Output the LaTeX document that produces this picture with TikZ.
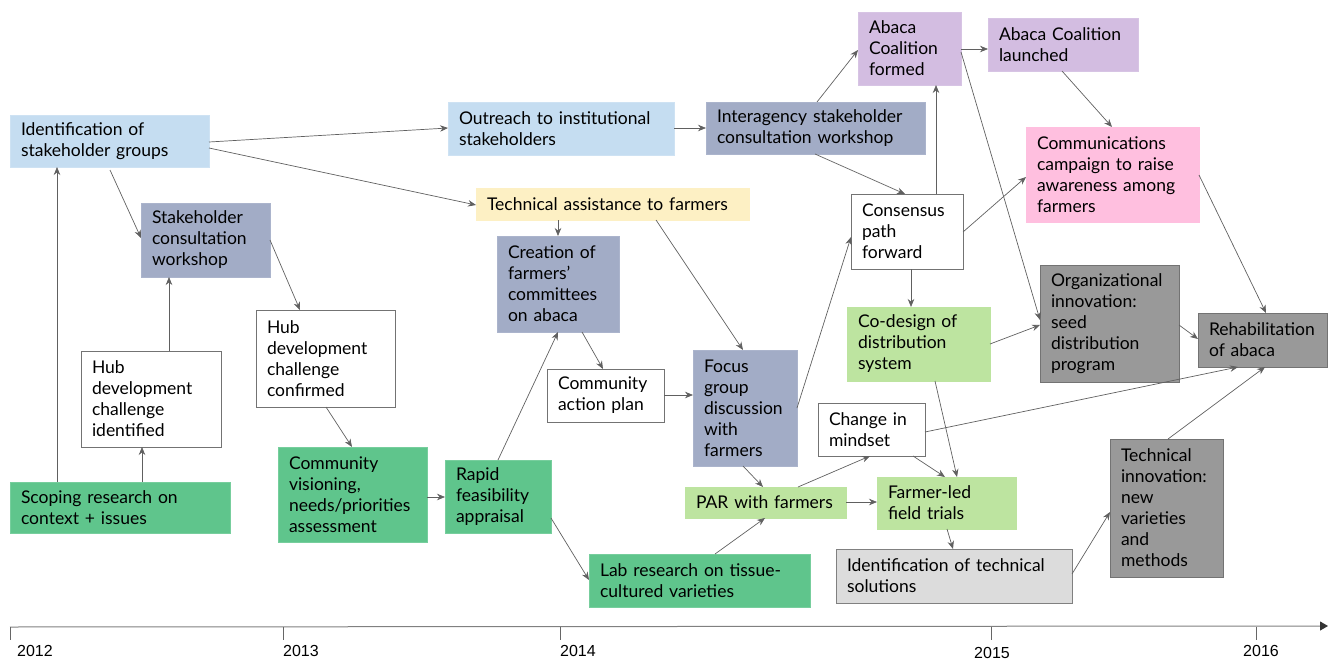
\documentclass[tikz,border=0pt]{standalone}
\usepackage{fontspec}
\setmainfont{Lato}
\newfontfamily\yearfont{Liberation Sans}
\usetikzlibrary{arrows.meta}
\hyphenpenalty=10000
\exhyphenpenalty=10000
\definecolor{cblue}{HTML}{C5DDF1}
\definecolor{cslate}{HTML}{A2ACC6}
\definecolor{cyellow}{HTML}{FDF0C4}
\definecolor{cgreen}{HTML}{5FC58C}
\definecolor{clgreen}{HTML}{BDE4A0}
\definecolor{cpurple}{HTML}{D3BDE1}
\definecolor{cpink}{HTML}{FFBFDF}
\definecolor{cgray}{HTML}{999999}
\definecolor{clgray}{HTML}{DCDCDC}
\definecolor{cline}{HTML}{606060}
\newcommand{\bx}[7]{%
  \pgfmathsetmacro{\bxw}{#4-#2}%
  \pgfmathsetmacro{\bxh}{#5-#3}%
  \pgfmathsetmacro{\bxt}{#4-#2-22}%
  \node[box,#6,minimum width=\bxw pt,minimum height=\bxh pt,text width=\bxt pt] (#1) at (#2,#3) {#7};}
\tikzset{
  box/.style={anchor=north west,outer sep=0pt,inner xsep=11pt,inner ysep=2pt,align=left,
    font=\fontsize{17.5}{21}\selectfont,line width=0.8pt},
  fblue/.style={fill=cblue,draw=cblue!85!white},
  fslate/.style={fill=cslate,draw=cslate!90!white},
  fyellow/.style={fill=cyellow,draw=cyellow},
  fgreen/.style={fill=cgreen,draw=cgreen!85!white},
  flgreen/.style={fill=clgreen,draw=clgreen},
  fpurple/.style={fill=cpurple,draw=cpurple!90!white},
  fpink/.style={fill=cpink,draw=cpink},
  fgray/.style={fill=cgray,draw=black!55},
  flgray/.style={fill=clgray,draw=black!50},
  fwhite/.style={fill=white,draw=black!55},
  conn/.style={draw=cline,line width=0.7pt,-{Stealth[length=8pt,width=6.5pt]}},
  year/.style={anchor=west,font=\yearfont\fontsize{16}{16}\selectfont,inner sep=0pt},
  tick/.style={draw=black!60,line width=0.7pt}
}
\begin{document}
\begin{tikzpicture}[x=1pt,y=-1pt]
\useasboundingbox (0,0) rectangle (1328,661);
% boxes
\bx{idsg}{10}{115}{209}{167}{fblue}{Identification of\\stakeholder groups}
\bx{scw}{141}{203}{270}{277}{fslate}{Stakeholder\\consultation\\workshop}
\bx{hdci}{81}{351}{221}{447}{fwhite}{Hub\\development\\challenge\\identified}
\bx{scope}{10}{482}{230}{533}{fgreen}{Scoping research on\\context + issues}
\bx{hdcc}{256}{310}{395}{407}{fwhite}{Hub\\development\\challenge\\confirmed}
\bx{cvis}{278}{447}{427}{542}{fgreen}{Community\\visioning,\\needs/priorities\\assessment}
\bx{outr}{448}{102}{674}{155}{fblue}{Outreach to institutional\\stakeholders}
\bx{inter}{706}{102}{925}{154}{fslate}{Interagency stakeholder\\consultation workshop}
\bx{tech}{476}{188}{749}{220}{fyellow}{Technical assistance to farmers}
\bx{creat}{497}{236}{619}{332}{fslate}{Creation of\\farmers’\\committees\\on abaca}
\bx{cap}{547}{369}{664}{422}{fwhite}{Community\\action plan}
\bx{focus}{693}{350}{797}{466}{fslate}{Focus\\group\\discussion\\with\\farmers}
\bx{rapid}{445}{460}{551}{533}{fgreen}{Rapid\\feasibility\\appraisal}
\bx{par}{685}{487}{846}{518}{flgreen}{PAR with farmers}
\bx{lab}{589}{554}{810}{607}{fgreen}{Lab research on tissue-\\cultured varieties}
\bx{cons}{851}{194}{963}{269}{fwhite}{Consensus\\path\\forward}
\bx{acf}{858}{12}{961}{85}{fpurple}{Abaca\\Coalition\\formed}
\bx{acl}{988}{18}{1138}{71}{fpurple}{Abaca Coalition\\launched}
\bx{comm}{1026}{127}{1199}{222}{fpink}{Communications\\campaign to raise\\awareness among\\farmers}
\bx{org}{1040}{265}{1179}{382}{fgray}{Organizational\\innovation:\\seed\\distribution\\program}
\bx{codes}{847}{307}{990}{381}{flgreen}{Co-design of\\distribution\\system}
\bx{mind}{818}{403}{925}{456}{fwhite}{Change in\\mindset}
\bx{flt}{877}{477}{1016}{529}{flgreen}{Farmer-led\\field trials}
\bx{its}{836}{549}{1072}{603}{flgray}{Identification of technical\\solutions}
\bx{tinn}{1110}{439}{1223}{577}{fgray}{Technical\\innovation:\\new\\varieties\\and\\methods}
\bx{rehab}{1198}{313}{1327}{367}{fgray}{Rehabilitation\\of abaca}
% connectors
\draw[conn] ([xshift=47pt]scope.north west) -- ([xshift=47pt]idsg.south west);
\draw[conn] ([xshift=132pt]scope.north west) -- ([xshift=61pt]hdci.south west);
\draw[conn] ([xshift=88pt]hdci.north west) -- ([xshift=28pt]scw.south west);
\draw[conn] ([xshift=100pt,yshift=-3pt]idsg.south west) -- ([yshift=-35pt]scw.north west);
\draw[conn] ([yshift=-37pt]scw.north east) -- ([xshift=44pt]hdcc.north west);
\draw[conn] ([xshift=70pt]hdcc.south west) -- ([xshift=74pt]cvis.north west);
\draw[conn] ([yshift=-50pt]cvis.north east) -- ([yshift=-37pt]rapid.north west);
\draw[conn] ([yshift=-27pt]idsg.north east) -- ([yshift=-26pt]outr.north west);
\draw[conn] ([yshift=-33pt]idsg.north east) -- ([yshift=-17pt]tech.north west);
\draw[conn] ([yshift=-26pt]outr.north east) -- ([yshift=-26pt]inter.north west);
\draw[conn] ([xshift=82pt]tech.south west) -- ([xshift=61pt]creat.north west);
\draw[conn] ([xshift=180pt]tech.south west) -- ([xshift=50pt]focus.north west);
\draw[conn] ([xshift=109pt]inter.south west) -- ([xshift=54pt]cons.north west);
\draw[conn] ([xshift=111pt]inter.north west) -- ([yshift=-38pt]acf.north west);
\draw[conn] ([xshift=53pt]rapid.north west) -- ([xshift=61pt]creat.south west);
\draw[conn] ([xshift=85pt]creat.south west) -- ([xshift=56pt]cap.north west);
\draw[conn] ([yshift=-26pt]cap.north east) -- ([yshift=-45pt]focus.north west);
\draw[conn] ([xshift=50pt]focus.south west) -- ([xshift=78pt]par.north west);
\draw[conn] ([yshift=-58pt]focus.north east) -- ([yshift=-43pt]cons.north west);
\draw[conn] ([yshift=-58pt]rapid.north east) -- ([yshift=-26pt]lab.north west);
\draw[conn] ([xshift=126pt]lab.north west) -- ([xshift=80pt]par.south west);
\draw[conn] ([xshift=113pt]par.north west) -- ([xshift=52pt]mind.south west);
\draw[conn] ([yshift=-15pt]par.north east) -- ([yshift=-25pt]flt.north west);
\draw[conn] ([xshift=85pt]cons.north west) -- ([xshift=78pt]acf.south west);
\draw[conn] ([yshift=-37pt]acf.north east) -- ([yshift=-31pt]acl.north west);
\draw[conn] ([yshift=-40pt]acf.north east) -- ([yshift=-55pt]org.north west);
\draw[conn] ([xshift=74pt]acl.south west) -- ([xshift=86pt]comm.north west);
\draw[conn] ([yshift=-38pt]cons.north east) -- ([yshift=-50pt]comm.north west);
\draw[conn] ([yshift=-48pt]comm.north east) -- ([xshift=68pt]rehab.north west);
\draw[conn] ([xshift=60pt]cons.south west) -- ([xshift=64pt]codes.north west);
\draw[conn] ([yshift=-60pt]org.north east) -- ([yshift=-26pt]rehab.north west);
\draw[conn] ([yshift=-37pt]codes.north east) -- ([yshift=-60pt]org.north west);
\draw[conn] ([xshift=88pt]codes.south west) -- ([xshift=80pt]flt.north west);
\draw[conn] ([xshift=95pt]mind.south west) -- ([xshift=68pt]flt.north west);
\draw[conn] ([yshift=-29pt]mind.north east) -- ([xshift=40pt]rehab.south west);
\draw[conn] ([xshift=70pt]flt.south west) -- ([xshift=117pt]its.north west);
\draw[conn] ([yshift=-25pt]its.north east) -- ([yshift=-73pt]tinn.north west);
\draw[conn] ([xshift=58pt]tinn.north west) -- ([xshift=67pt]rehab.south west);
% timeline
\coordinate (tl0) at (10,627);
\coordinate (tl1) at (1328,626);
\draw[draw=black!50,line width=1pt,-{Triangle[length=8pt,width=9pt,color=black!80]}] (tl0) -- (tl1);
\foreach \xx/\lx/\yr/\yy in {10/17/2012/651,283/283/2013/651,560/560/2014/651,991/974/2015/653,1256/1243/2016/651}{
  \draw[tick] (\xx,627) -- (\xx,640);
  \node[year] (y\yr) at (\lx,\yy) {\yr};
}
\end{tikzpicture}
\end{document}
